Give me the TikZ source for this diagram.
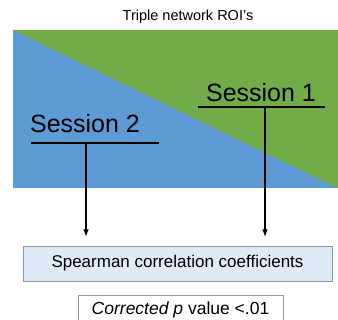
\documentclass[tikz,border=0pt]{standalone}
\usepackage{fontspec}
\setmainfont{Liberation Sans}
\usepackage{tikz}
\usetikzlibrary{arrows}

\definecolor{roiblue}{RGB}{94,154,212}
\definecolor{roigreen}{RGB}{114,172,72}
\definecolor{boxfill}{RGB}{222,234,246}
\definecolor{boxline}{RGB}{140,150,165}

\tikzset{
  session/.style={font=\fontsize{25}{27}\selectfont},
  underline/.style={line width=1.8pt},
  feed/.style={line width=1.5pt,-latex,shorten >=9pt},
  result/.style={draw=boxline,line width=0.8pt,inner sep=0pt,font=\fontsize{17}{19}\selectfont}
}

\begin{document}
\begin{tikzpicture}[x=1pt,y=-1pt]
    \useasboundingbox (0,0) rectangle (338,320);
    \fill[roiblue] (13,30) rectangle (338,188);
    \fill[roigreen] (13,30) -- (338,30) -- (338,188) -- cycle;
    \node (title) at (188,17) {\fontsize{14.5}{16}\selectfont Triple network ROI's};
    \node[session] (s1) at (261,93) {Session 1};
    \node[session] (s2) at (85,124) {Session 2};
    \coordinate (s1l) at (198,107);
    \coordinate (s1r) at (325,107);
    \coordinate (s1m) at (265,107);
    \coordinate (s2l) at (31,143);
    \coordinate (s2r) at (159,143);
    \coordinate (s2m) at (86,143);
    \node[result,fill=boxfill,minimum width=309pt,minimum height=35pt] (spear) at (177.5,263.5) {Spearman correlation coefficients};
    \node[result,fill=white,minimum width=205pt,minimum height=30pt] (corr) at (180.5,310) {\fontsize{17.5}{19}\selectfont\textit{Corrected p} value <.01};
    \draw[underline] (s1l) -- (s1r);
    \draw[underline] (s2l) -- (s2r);
    \draw[feed] (s1m) -- (spear.north -| s1m);
    \draw[feed] (s2m) -- (spear.north -| s2m);
  \end{tikzpicture}
\end{document}
